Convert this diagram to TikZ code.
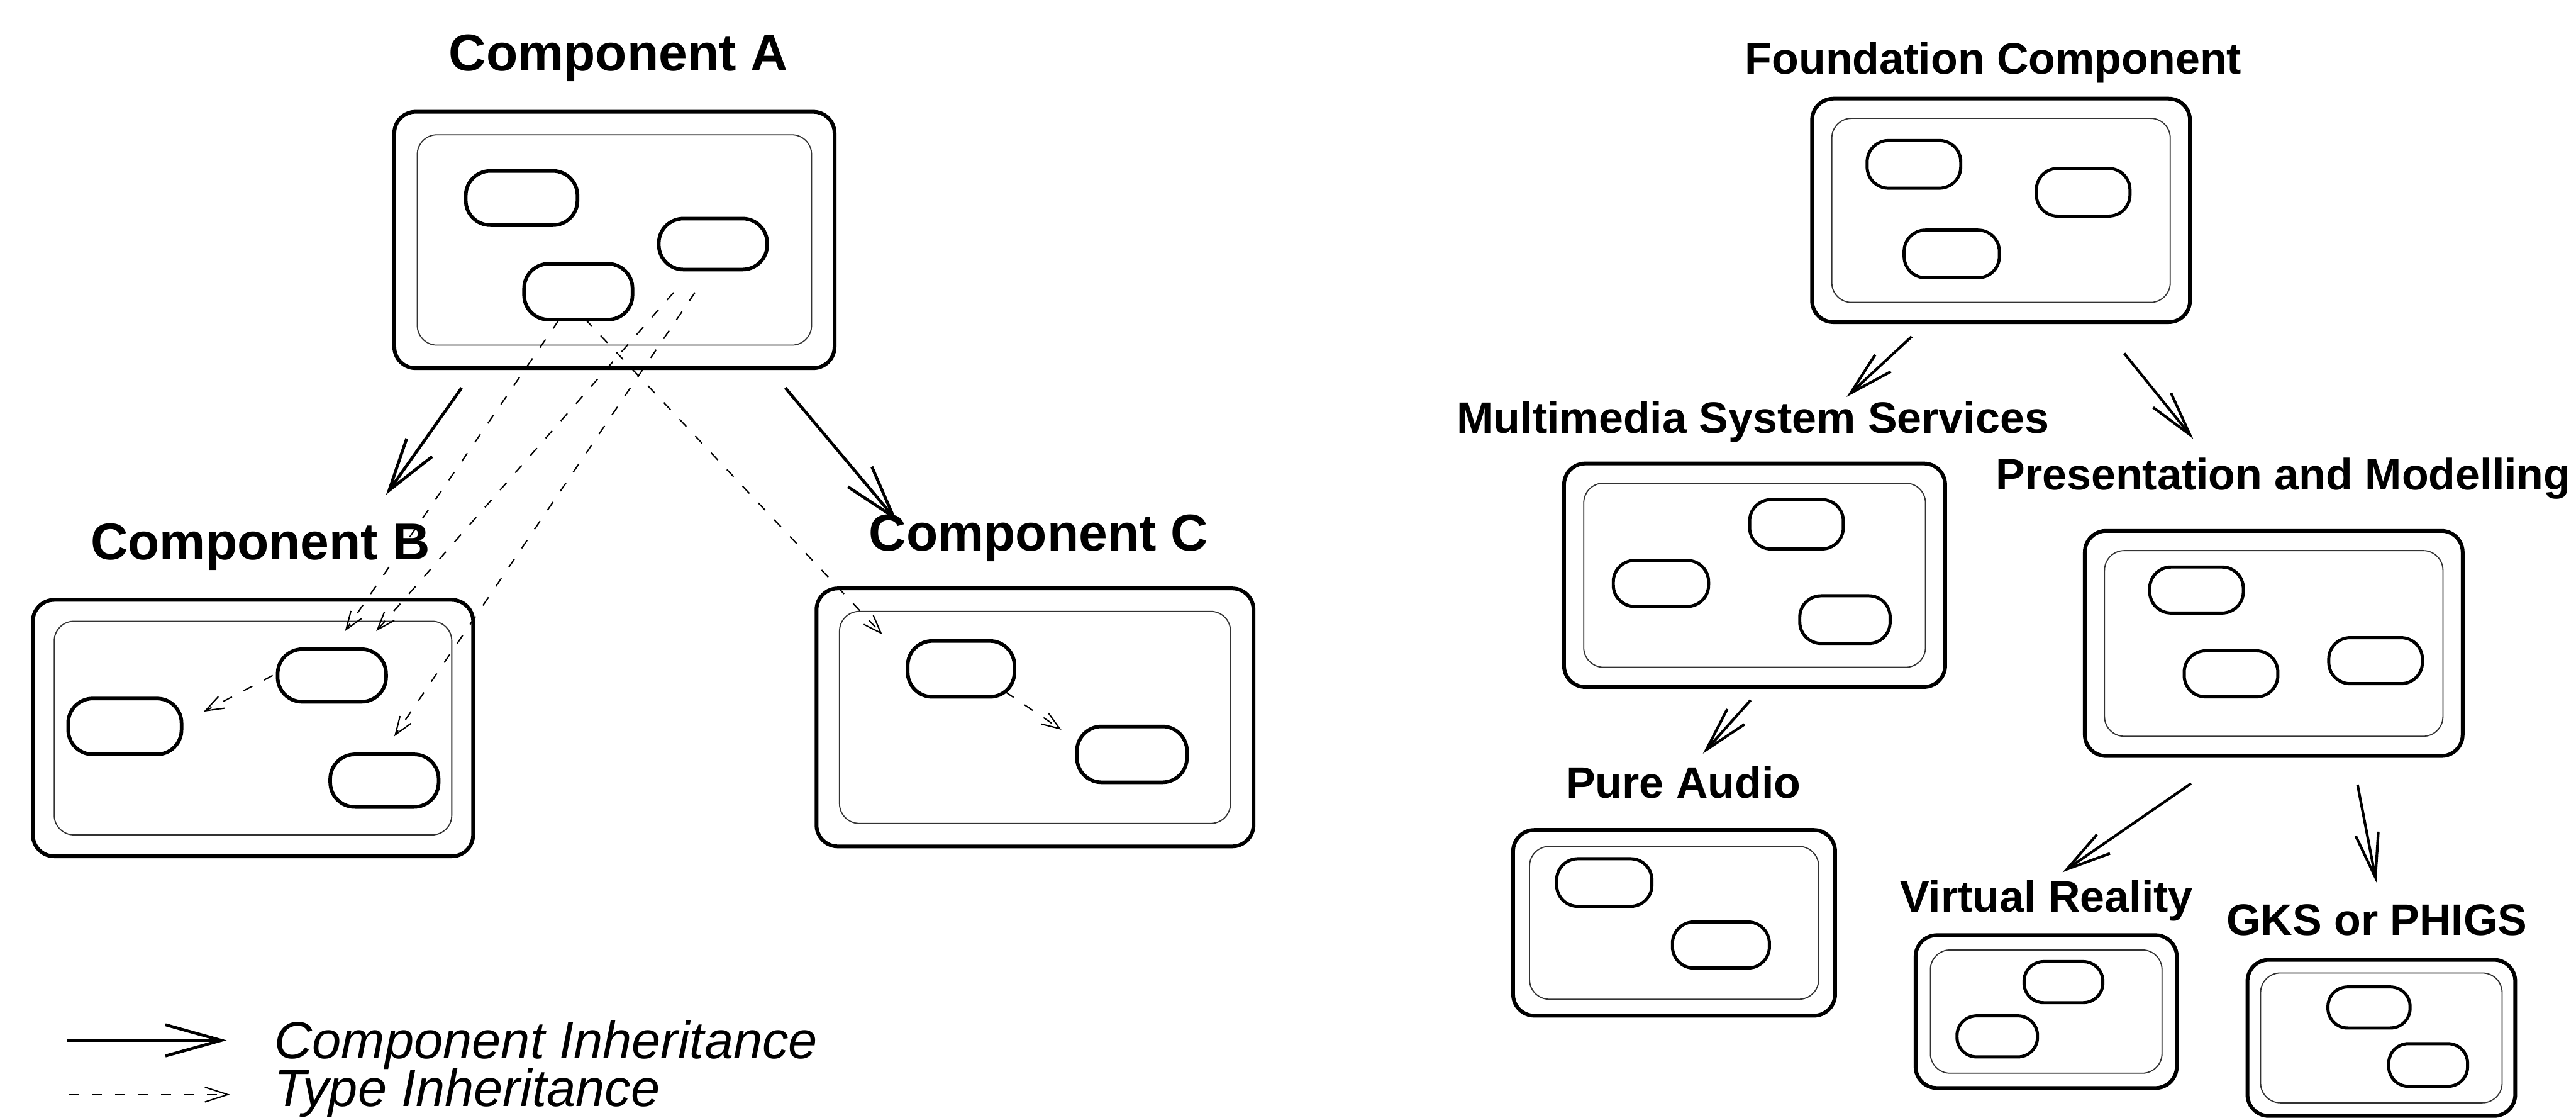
\documentclass[tikz,border=0pt]{standalone}
\usepackage{fontspec}
\setmainfont{Liberation Sans}
\usetikzlibrary{arrows.meta}

% outer component frame with its inner (thin) frame
\newcommand\compbox[6]{% name, x1, y1, x2, y2, inset
  \node[outerbox, minimum width={#4-#2}, minimum height={#5-#3}] (#1) at ({(#2+#4)/2},{(#3+#5)/2}) {};
  \node[innerbox, minimum width={#4-#2-2*#6}, minimum height={#5-#3-2*#6}] (#1-in) at (#1.center) {};
}

\begin{document}
\begin{tikzpicture}[x=1pt, y=-1pt,
  outerbox/.style={draw, line width=2.3pt, rounded corners=13pt, inner sep=0pt, outer sep=0pt},
  innerbox/.style={draw, black!80, line width=0.7pt, rounded corners=12pt, inner sep=0pt, outer sep=0pt},
  cls/.style={draw, line width=2.2pt, rounded corners=15pt, inner sep=0pt, outer sep=0pt},
  clsR/.style={draw, line width=1.9pt, rounded corners=13pt, inner sep=0pt, outer sep=0pt},
  clsS/.style={clsR, rounded corners=12pt},
  inh/.style={line width=1.8pt, -{Straight Barb[length=32pt, width=19pt]}},
  inhR/.style={line width=1.6pt, -{Straight Barb[length=27pt, width=14pt]}},
  typ/.style={line width=0.8pt, dash pattern=on 6pt off 8pt, -{Straight Barb[length=11pt, width=8pt]}},
  lab/.style={font=\fontsize{31.5}{34}\selectfont\bfseries, inner sep=0pt, anchor=base west},
  labR/.style={font=\fontsize{26.8}{30}\selectfont\bfseries, inner sep=0pt, anchor=base west},
  leg/.style={font=\fontsize{31.8}{34}\selectfont\itshape, inner sep=0pt, anchor=base west}]

\useasboundingbox (0,0) rectangle (1568,680);

% ---------------- left: component inheritance example ----------------
\compbox{A}{240}{68}{508}{224}{14}
\compbox{B}{20}{365}{288}{521}{13}
\compbox{C}{497}{358}{763}{515}{14}

\node[cls, minimum width=68pt, minimum height=33pt] (A1) at (317.5,120.5) {};
\node[cls, minimum width=66pt, minimum height=31pt] (A2) at (434,148.5) {};
\node[cls, minimum width=66pt, minimum height=34pt] (A3) at (352,177.5) {};

\node[cls, minimum width=69pt, minimum height=34pt] (B1) at (76,442) {};
\node[cls, minimum width=66pt, minimum height=32pt] (B2) at (202,411) {};
\node[cls, minimum width=66pt, minimum height=32pt] (B3) at (234,475) {};

\node[cls, minimum width=65pt, minimum height=34pt] (C1) at (585,407) {};
\node[cls, minimum width=67pt, minimum height=34pt] (C2) at (689,459) {};

\node[lab] (tA) at (273,43) {Component A};
\node[lab] (tB) at (55,340.6) {Component B};
\node[lab] (tC) at (528.7,335) {Component C};

% component inheritance
\coordinate (ab0) at (281,236);  \coordinate (ab1) at (235,301);
\coordinate (ac0) at (478,236);  \coordinate (ac1) at (546,317);
\draw[inh] (ab0) -- (ab1);
\draw[inh] (ac0) -- (ac1);

% type inheritance
\coordinate (t1s) at (340,195);  \coordinate (t1e) at (210,384);
\coordinate (t2s) at (410,178);  \coordinate (t2e) at (229,384);
\coordinate (t3s) at (423,178);  \coordinate (t3e) at (240,448);
\coordinate (t4s) at (356,194);  \coordinate (t4e) at (537,386);
\coordinate (t5s) at (166,411);  \coordinate (t5e) at (124,433);
\coordinate (t6s) at (612,421);  \coordinate (t6e) at (646,444);
\draw[typ] (t1s) -- (t1e);
\draw[typ] (t2s) -- (t2e);
\draw[typ] (t3s) -- (t3e);
\draw[typ] (t4s) -- (t4e);
\draw[typ] (t5s) -- (t5e);
\draw[typ] (t6s) -- (t6e);

% legend
\coordinate (l1s) at (41,633);  \coordinate (l1e) at (138,633);
\coordinate (l2s) at (42,666);  \coordinate (l2e) at (140,666);
\draw[line width=1.8pt, -{Straight Barb[length=34pt, width=19pt]}] (l1s) -- (l1e);
\draw[line width=0.8pt, dash pattern=on 6pt off 8pt, -{Straight Barb[length=14pt, width=9pt]}] (l2s) -- (l2e);
\node[leg] (legA) at (167,644) {Component Inheritance};
\node[leg] (legB) at (167,673) {Type Inheritance};

% ---------------- right: component hierarchy ----------------
\compbox{F}{1103}{60}{1333}{196}{12}
\compbox{M}{952}{282}{1184}{418}{12}
\compbox{P}{1269}{323}{1499}{460}{12}
\compbox{PA}{921}{505}{1117}{618}{10}
\compbox{VR}{1166}{569}{1325}{662}{9}
\compbox{G}{1368}{584}{1531}{679}{8}

\node[clsR, minimum width=57pt, minimum height=29pt] (F1) at (1165,100) {};
\node[clsR, minimum width=57pt, minimum height=29pt] (F2) at (1268,117) {};
\node[clsR, minimum width=58pt, minimum height=29pt] (F3) at (1188,154.5) {};

\node[clsR, minimum width=57pt, minimum height=30pt] (M1) at (1093.5,319) {};
\node[clsR, minimum width=58pt, minimum height=28pt] (M2) at (1011,355) {};
\node[clsR, minimum width=55pt, minimum height=29pt] (M3) at (1123,377) {};

\node[clsR, minimum width=57pt, minimum height=28pt] (P1) at (1337,359) {};
\node[clsR, minimum width=57pt, minimum height=28pt] (P2) at (1358,410) {};
\node[clsR, minimum width=57pt, minimum height=28pt] (P3) at (1446,402) {};

\node[clsR, minimum width=58pt, minimum height=29pt] (PA1) at (976.5,537) {};
\node[clsR, minimum width=59pt, minimum height=28pt] (PA2) at (1047.5,575) {};

\node[clsS, minimum width=48pt, minimum height=25pt] (VR1) at (1256,597.6) {};
\node[clsS, minimum width=49pt, minimum height=25pt] (VR2) at (1215.7,630.6) {};

\node[clsS, minimum width=50pt, minimum height=25pt] (G1) at (1442,613) {};
\node[clsS, minimum width=48pt, minimum height=26pt] (G2) at (1478,648) {};

\node[labR] (tF) at (1062,45) {Foundation Component};
\node[labR] (tM) at (886.6,263.5) {Multimedia System Services};
\node[labR] (tP) at (1214.6,298) {Presentation and Modelling};
\node[labR] (tPA) at (953,485.7) {Pure Audio};
\node[labR, anchor=base east] (tVR) at (1335,555) {Virtual Reality};
\node[labR] (tG) at (1355,569) {GKS or PHIGS};

\coordinate (fm0) at (1163.6,204.8);  \coordinate (fm1) at (1124,241.5);
\coordinate (fp0) at (1293,215);      \coordinate (fp1) at (1335,267);
\coordinate (mp0) at (1065.6,426);    \coordinate (mp1) at (1036.5,458.6);
\coordinate (pv0) at (1333.7,476.7);  \coordinate (pv1) at (1255.5,530.7);
\coordinate (pg0) at (1435,477.4);    \coordinate (pg1) at (1446.5,537);
\draw[inhR] (fm0) -- (fm1);
\draw[inhR] (fp0) -- (fp1);
\draw[inhR] (mp0) -- (mp1);
\draw[inhR] (pv0) -- (pv1);
\draw[inhR] (pg0) -- (pg1);

\end{tikzpicture}
\end{document}
